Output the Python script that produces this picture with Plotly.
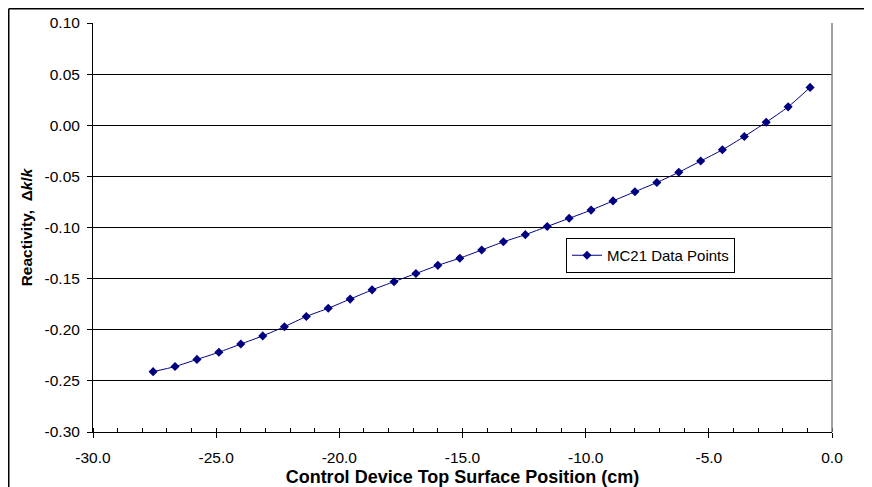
import plotly.graph_objects as go

# Data
positions_cm = [-27.56, -26.67, -25.78, -24.89, -24.00, -23.11, -22.23, -21.34, -20.45, -19.56,
                -18.67, -17.78, -16.89, -16.00, -15.11, -14.22, -13.34, -12.45, -11.56, -10.67,
                -9.78, -8.89, -8.00, -7.11, -6.22, -5.33, -4.45, -3.56, -2.67, -1.78, -0.89]
reactivity = [-0.241, -0.236, -0.229, -0.222, -0.214, -0.206, -0.197, -0.187, -0.179, -0.170,
              -0.161, -0.153, -0.145, -0.137, -0.130, -0.122, -0.114, -0.107, -0.099, -0.091,
              -0.083, -0.074, -0.065, -0.056, -0.046, -0.035, -0.024, -0.011, 0.003, 0.018, 0.037]
x_tick_values = [-30, -25, -20, -15, -10, -5, 0]
x_tick_labels = ["-30.0", "-25.0", "-20.0", "-15.0", "-10.0", "-5.0", "0.0"]
y_tick_values = [-0.30, -0.25, -0.20, -0.15, -0.10, -0.05, 0.00, 0.05, 0.10]
y_tick_labels = ["-0.30", "-0.25", "-0.20", "-0.15", "-0.10", "-0.05", "0.00", "0.05", "0.10"]
series_name = "MC21 Data Points"
x_title = "Control Device Top Surface Position (cm)"
y_title = "Reactivity,  Δ<i>k</i>/<i>k</i>"

# the page body has an 8px margin, so the figure is sized to fit the window
W, H = 864, 479
L, R, T, B = 85, 40, 15, 55
pw, ph = W - L - R, H - T - B

fig = go.Figure()
fig.add_trace(go.Scatter(
    x=positions_cm, y=reactivity, name=series_name, mode="lines+markers",
    line=dict(color="#000080", width=1, shape="spline", smoothing=0.6),
    marker=dict(symbol="diamond", size=7, color="#000080"),
))

font = "Liberation Sans, Arial, sans-serif"
fig.update_layout(
    width=W, height=H,
    margin=dict(l=L, r=R, t=T, b=B, pad=0, autoexpand=False),
    paper_bgcolor="white", plot_bgcolor="white",
    font=dict(family=font, color="black", size=15),
    showlegend=True,
    legend=dict(
        x=(558 - L) / pw, y=(H - B - 230) / ph, xanchor="left", yanchor="top",
        bgcolor="white", bordercolor="black", borderwidth=1,
        font=dict(family=font, size=15, color="black"),
        itemwidth=30, tracegroupgap=0,
    ),
    xaxis=dict(
        range=[-30, 0], tickmode="array", tickvals=x_tick_values, ticktext=x_tick_labels,
        showgrid=False, zeroline=False, automargin=False,
        showline=True, linecolor="black", linewidth=1,
        ticks="outside", ticklen=5, tickcolor="black", tickwidth=1,
        minor=dict(tickmode="linear", tick0=-30, dtick=1, ticks="inside", ticklen=4,
                   tickcolor="black", tickwidth=1, showgrid=False),
        tickfont=dict(family=font, size=15.5, color="black"),
        ticklabelstandoff=6,
        title=dict(text="<b>" + x_title + "</b>", font=dict(family=font, size=18, color="black"), standoff=5),
    ),
    yaxis=dict(
        range=[-0.30, 0.10], tickmode="array", tickvals=y_tick_values, ticktext=y_tick_labels,
        showgrid=True, gridcolor="black", gridwidth=1, zeroline=False, automargin=False,
        showline=True, linecolor="black", linewidth=1,
        ticks="outside", ticklen=5, tickcolor="black", tickwidth=1,
        tickfont=dict(family=font, size=15.5, color="black"),
        ticklabelstandoff=4,
        title=dict(text="<b>" + y_title + "</b>", font=dict(family=font, size=15.5, color="black"), standoff=8),
    ),
)

# right border of plot area (gray) and outer chart frame (left and top edges)
fig.add_shape(type="line", xref="paper", yref="paper", x0=1, x1=1, y0=0, y1=1,
              line=dict(color="#808080", width=1.5))
fx = (0.75 - L) / pw
fy_top = (H - B - 0.75) / ph
fy_bot = (H - B - H - 5) / ph
fx_right = (W + 5 - L) / pw
fig.add_shape(type="line", xref="paper", yref="paper", x0=fx, x1=fx, y0=fy_bot, y1=fy_top,
              line=dict(color="black", width=1.5))
fig.add_shape(type="line", xref="paper", yref="paper", x0=fx, x1=fx_right, y0=fy_top, y1=fy_top,
              line=dict(color="black", width=1.5))

fig.write_html("out.html")
